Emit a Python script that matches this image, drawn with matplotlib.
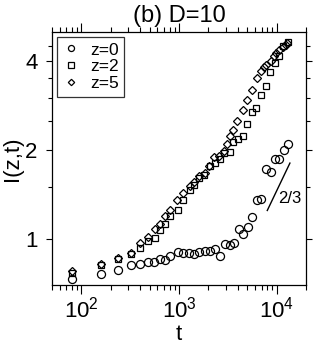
import matplotlib
matplotlib.use("Agg")
import matplotlib.pyplot as plt
from matplotlib.ticker import FixedLocator, FixedFormatter, NullFormatter, LogLocator

plt.rcParams["font.family"] = ["Liberation Sans", "DejaVu Sans"]
plt.rcParams["mathtext.fontset"] = "custom"
plt.rcParams["mathtext.rm"] = "Liberation Sans"

# ─── data ────────────────────────────────────────────────────────────────────
t_z0 = [80, 160, 238, 320, 396, 482, 552, 635, 714, 805, 966, 1100, 1270, 1430,
        1600, 1840, 2070, 2330, 2620, 2950, 3310, 3680, 4100, 4540, 5040, 5545,
        6240, 6905, 7770, 8675, 9610, 10640, 11880, 12970]
I_z0 = [0.732, 0.762, 0.786, 0.814, 0.821, 0.838, 0.838, 0.858, 0.849, 0.876,
        0.902, 0.899, 0.895, 0.888, 0.904, 0.913, 0.911, 0.925, 0.876, 0.960,
        0.954, 0.967, 1.081, 1.040, 1.095, 1.184, 1.348, 1.365, 1.720, 1.676,
        1.865, 1.865, 2.000, 2.095]

t_z2 = [80, 160, 238, 320, 396, 482, 565, 635, 714, 805, 966, 1090, 1290, 1430,
        1610, 1810, 2070, 2330, 2620, 2880, 3300, 3610, 4050, 4540, 4990, 5640,
        6140, 6900, 7700, 8600, 9610, 10600, 11640, 12970]
I_z2 = [0.767, 0.814, 0.852, 0.890, 0.929, 0.987, 1.005, 1.072, 1.124, 1.190,
        1.248, 1.350, 1.459, 1.523, 1.604, 1.646, 1.756, 1.803, 1.860, 1.949,
        1.964, 2.129, 2.171, 2.218, 2.435, 2.683, 2.763, 3.053, 3.275, 3.652,
        3.929, 4.159, 4.472, 4.628]

t_z5 = [80, 160, 238, 320, 396, 482, 565, 645, 714, 805, 950, 1100, 1290, 1430,
        1610, 1840, 2030, 2280, 2560, 2880, 3090, 3300, 3580, 3920, 4560, 5000,
        5550, 6240, 6900, 7400, 7870, 8660, 9350, 9960, 10660, 11520, 12330, 12850]
I_z5 = [0.776, 0.820, 0.863, 0.897, 0.971, 1.012, 1.081, 1.124, 1.196, 1.253,
        1.350, 1.427, 1.511, 1.559, 1.633, 1.672, 1.766, 1.894, 1.909, 1.985,
        2.091, 2.230, 2.328, 2.497, 2.731, 2.941, 3.191, 3.497, 3.681, 3.798,
        3.878, 3.979, 4.159, 4.248, 4.359, 4.451, 4.531, 4.592]

slope_t = [8020, 13680]
slope_I = [1.247, 1.803]

y_major = [1, 2, 4]
y_labels = ["1", "2", "4"]
y_minor = [1.5, 2.5, 3, 3.5, 4.5]

fig = plt.figure(figsize=(3.16, 3.46), dpi=100)
ax = fig.add_axes([0.1646, 0.1772, 0.8038, 0.7303])

ms = dict(ls="none", mfc="none", mec="black", mew=0.9)
ax.plot(t_z0, I_z0, marker="o", ms=5.8, label="z=0", **ms)
ax.plot(t_z2, I_z2, marker="s", ms=5.0, label="z=2", **ms)
ax.plot(t_z5, I_z5, marker="D", ms=4.3, label="z=5", **ms)

ax.plot(slope_t, slope_I, color="black", lw=1.0)
ax.text(10300, 1.366, "2/3", fontsize=12, va="center", ha="left")

ax.set_xscale("log")
ax.set_yscale("log")
ax.set_xlim(50, 20000)
ax.set_ylim(0.7, 5.0)

ax.yaxis.set_major_locator(FixedLocator(y_major))
ax.yaxis.set_major_formatter(FixedFormatter(y_labels))
ax.yaxis.set_minor_locator(FixedLocator(y_minor))
ax.yaxis.set_minor_formatter(NullFormatter())
ax.xaxis.set_major_locator(LogLocator(base=10, numticks=10))

ax.tick_params(which="both", direction="out", top=True, right=True, width=0.8)
ax.tick_params(axis="x", which="major", length=6.5, labelsize=16, pad=2)
ax.tick_params(axis="x", which="minor", length=3.3)
ax.tick_params(axis="y", which="major", length=4.5, labelsize=16, pad=6)
ax.tick_params(axis="y", which="minor", length=3)
for sp in ax.spines.values():
    sp.set_linewidth(0.9)

ax.set_xlabel("t", fontsize=16, labelpad=1)
ax.set_ylabel("I(z,t)", fontsize=16, labelpad=1.5)
ax.set_title("(b) D=10", fontsize=17, pad=7)

leg = ax.legend(loc="upper left", fontsize=12.5, frameon=True, fancybox=False,
                edgecolor="black", labelspacing=0.1, handlelength=1.0,
                handletextpad=0.6, borderpad=0.3, borderaxespad=0.3,
                markerscale=0.75)
leg.get_frame().set_linewidth(0.9)

fig.savefig("out.png", dpi=100)
